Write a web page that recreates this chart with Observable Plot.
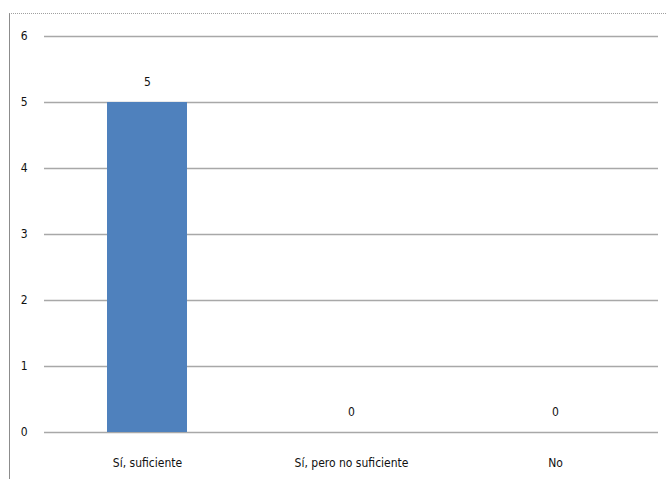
<!DOCTYPE html>
<html>
<head>
<meta charset="utf-8">
<script src="https://cdn.jsdelivr.net/npm/d3@7"></script>
<script src="https://cdn.jsdelivr.net/npm/@observablehq/plot@0.6"></script>
<style>
  html, body { margin: 0; padding: 0; background: #fff; }
  #wrap { position: relative; width: 666px; height: 479px; }
  #frame { position: absolute; left: 9px; top: 13px; width: 657px; height: 466px;
           border-left: 1px solid #8c8c8c; border-top: 1px dotted #a0a0a0; box-sizing: border-box; pointer-events: none; }
</style>
</head>
<body>
<div id="wrap"><div id="frame"></div></div>
<script>
const categories = ["Sí, suficiente", "Sí, pero no suficiente", "No"];
const values = [5, 0, 0];
const yTicks = [0, 1, 2, 3, 4, 5, 6];

const data = categories.map((c, i) => ({category: c, value: values[i]}));

const font = "'DejaVu Sans Condensed', 'Liberation Sans Narrow', sans-serif";
const chart = Plot.plot({
  width: 666,
  height: 479,
  marginLeft: 44,
  marginRight: 8,
  marginTop: 36,
  marginBottom: 47,
  style: {fontSize: "12px", fontFamily: font, color: "#111", background: "transparent"},
  x: {domain: categories, paddingInner: 0.61, paddingOuter: 0.305, label: null, tickSize: 0, tickPadding: 26},
  y: {domain: [0, 6], ticks: yTicks, label: null, tickSize: 0, tickPadding: 17, tickFormat: d3.format("d")},
  marks: [
    Plot.ruleY(yTicks, {stroke: "#a8a8a8", strokeWidth: 1.6, strokeOpacity: 1}),
    Plot.barY(data, {x: "category", y: "value", fill: "#4f81bd"}),
    Plot.text(data, {x: "category", y: "value", text: d => String(d.value), dy: -20, fill: "#111", fontSize: 12})
  ]
});
document.getElementById("wrap").prepend(chart);
</script>
</body>
</html>
